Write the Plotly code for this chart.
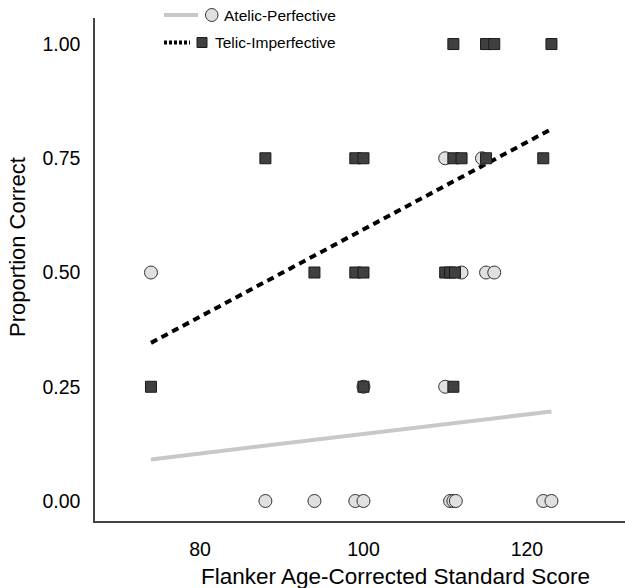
import plotly.graph_objects as go

# ---- data ----
telic_x = [111, 115, 116, 123,
           88, 99, 100, 111, 112, 115, 122,
           94, 99, 100, 110, 110.6, 111.2,
           74, 100, 111]
telic_y = [1.00, 1.00, 1.00, 1.00,
           0.75, 0.75, 0.75, 0.75, 0.75, 0.75, 0.75,
           0.50, 0.50, 0.50, 0.50, 0.50, 0.50,
           0.25, 0.25, 0.25]

atelic_x = [110, 114.5,
            74, 112, 115, 116,
            100, 110,
            88, 94, 99, 100, 110.6, 111, 111.3, 122, 123]
atelic_y = [0.75, 0.75,
            0.50, 0.50, 0.50, 0.50,
            0.25, 0.25,
            0.00, 0.00, 0.00, 0.00, 0.00, 0.00, 0.00, 0.00, 0.00]

fit_x = [74, 123]
telic_fit_y = [0.346, 0.814]
atelic_fit_y = [0.091, 0.196]

x_ticks = [80, 100, 120]
y_ticks = [0.00, 0.25, 0.50, 0.75, 1.00]
y_tick_text = ["0.00", "0.25", "0.50", "0.75", "1.00"]

FONT = "Liberation Sans, Arial, sans-serif"
W, H = 625, 588
L, R, T, B = 95, 0, 18, 67

fig = go.Figure()
fig.add_trace(go.Scatter(x=fit_x, y=atelic_fit_y, mode="lines",
                         line=dict(color="#c8c8c8", width=4), showlegend=False))
fig.add_trace(go.Scatter(x=fit_x, y=telic_fit_y, mode="lines",
                         line=dict(color="#000000", width=4, dash="7px,5px"), showlegend=False))
fig.add_trace(go.Scatter(x=atelic_x, y=atelic_y, mode="markers",
                         marker=dict(symbol="circle", size=13, color="#e0e0e0",
                                     line=dict(color="#333333", width=1)), showlegend=False))
fig.add_trace(go.Scatter(x=telic_x, y=telic_y, mode="markers",
                         marker=dict(symbol="square", size=11, color="#404040",
                                     line=dict(color="#1a1a1a", width=1)), showlegend=False))

# legend / titles placed manually (page pixel -> paper)
pw, ph = W - L - R, H - T - B
def px(p): return (p - L) / pw
def py(p): return (H - B - p) / ph

shapes = [
    dict(type="line", xref="paper", yref="paper", x0=px(164), x1=px(198), y0=py(15), y1=py(15),
         line=dict(color="#c8c8c8", width=4)),
    dict(type="circle", xref="paper", yref="paper", x0=px(205.5), x1=px(218), y0=py(21.5), y1=py(8.5),
         fillcolor="#e0e0e0", line=dict(color="#333333", width=1)),
    dict(type="line", xref="paper", yref="paper", x0=px(164), x1=px(190), y0=py(42.5), y1=py(42.5),
         line=dict(color="#000000", width=4, dash="3px,2px")),
    dict(type="rect", xref="paper", yref="paper", x0=px(197), x1=px(207), y0=py(47.5), y1=py(37.5),
         fillcolor="#404040", line=dict(color="#1a1a1a", width=1)),
]
annotations = [
    dict(xref="paper", yref="paper", x=px(222), y=py(15), text="Atelic-Perfective", showarrow=False,
         xanchor="left", yanchor="middle", font=dict(family=FONT, size=15.5, color="#000")),
    dict(xref="paper", yref="paper", x=px(213), y=py(42.5), text="Telic-Imperfective", showarrow=False,
         xanchor="left", yanchor="middle", font=dict(family=FONT, size=15.5, color="#000")),
    dict(xref="paper", yref="paper", x=px(395), y=py(576), text="Flanker Age-Corrected Standard Score",
         showarrow=False, xanchor="center", yanchor="middle",
         font=dict(family=FONT, size=22.5, color="#000")),
    dict(xref="paper", yref="paper", x=px(17), y=py(247), text="Proportion Correct", textangle=-90,
         showarrow=False, xanchor="center", yanchor="middle",
         font=dict(family=FONT, size=22, color="#000")),
]

fig.update_layout(
    width=W, height=H, margin=dict(l=L, r=R, t=T, b=B, autoexpand=False),
    paper_bgcolor="white", plot_bgcolor="white",
    font=dict(family=FONT, color="#000"),
    shapes=shapes, annotations=annotations, showlegend=False,
)
fig.update_xaxes(range=[67.15, 132.0], tickvals=x_ticks, showgrid=False, zeroline=False,
                 showline=True, linecolor="#444444", linewidth=1.5, ticks="", automargin=False,
                 tickfont=dict(size=19.5, family=FONT, color="#000"), ticklabelstandoff=10)
fig.update_yaxes(range=[-0.0438, 1.057], tickvals=y_ticks, ticktext=y_tick_text, showgrid=False,
                 zeroline=False, showline=True, linecolor="#444444", linewidth=1.5, ticks="",
                 automargin=False,
                 tickfont=dict(size=19.5, family=FONT, color="#000"), ticklabelstandoff=9)

fig.write_html(
    "out.html",
    config={"displayModeBar": False},
    post_script=("document.documentElement.style.overflow='hidden';"
                 "document.body.style.overflow='hidden';"
                 "document.body.style.margin='0';"),
)
